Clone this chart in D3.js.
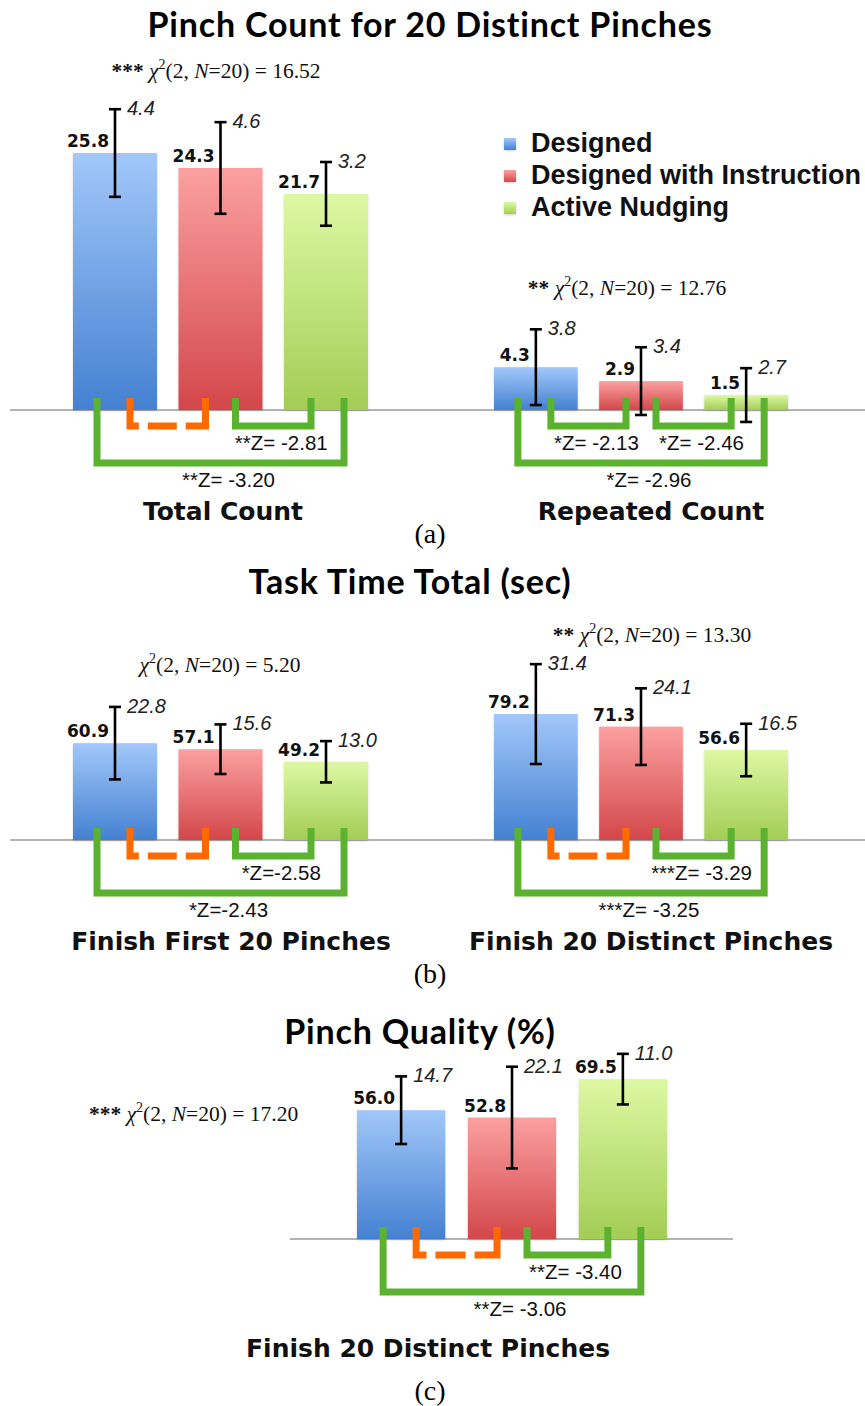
<!DOCTYPE html>
<html>
<head>
<meta charset="utf-8">
<script src="https://cdn.jsdelivr.net/npm/d3@7"></script>
<style>
  html, body { margin: 0; padding: 0; background: #fff; }
  svg { display: block; }
</style>
</head>
<body>
<svg id="chart" width="865" height="1406"></svg>
<script>
// ---- data ----------------------------------------------------------------
const conditions = ["Designed", "Designed with Instruction", "Active Nudging"];

const totalCountMean = [25.8, 24.3, 21.7];
const totalCountSD   = [4.4, 4.6, 3.2];
const repeatedCountMean = [4.3, 2.9, 1.5];
const repeatedCountSD   = [3.8, 3.4, 2.7];

const firstPinchesTimeMean = [60.9, 57.1, 49.2];
const firstPinchesTimeSD   = [22.8, 15.6, 13.0];
const distinctPinchesTimeMean = [79.2, 71.3, 56.6];
const distinctPinchesTimeSD   = [31.4, 24.1, 16.5];

const qualityMean = [56.0, 52.8, 69.5];
const qualitySD   = [14.7, 22.1, 11.0];

// pairwise tests: [from, to, significant, label]
const totalCountTests = [[0, 1, false, ""], [1, 2, true, "**Z= -2.81"], [0, 2, true, "**Z= -3.20"]];
const repeatedCountTests = [[0, 1, true, "*Z= -2.13"], [1, 2, true, "*Z= -2.46"], [0, 2, true, "*Z= -2.96"]];
const firstPinchesTests = [[0, 1, false, ""], [1, 2, true, "*Z=-2.58"], [0, 2, true, "*Z=-2.43"]];
const distinctPinchesTests = [[0, 1, false, ""], [1, 2, true, "***Z= -3.29"], [0, 2, true, "***Z= -3.25"]];
const qualityTests = [[0, 1, false, ""], [1, 2, true, "**Z= -3.40"], [0, 2, true, "**Z= -3.06"]];

// Friedman tests: [stars, chi-square value]
const totalCountChi = ["***", "16.52"];
const repeatedCountChi = ["**", "12.76"];
const firstPinchesChi = ["", "5.20"];
const distinctPinchesChi = ["**", "13.30"];
const qualityChi = ["***", "17.20"];

// ---- style ---------------------------------------------------------------
const barTop    = ["#a2c7fa", "#fba0a0", "#ddf8a3"];
const barBottom = ["#4481d1", "#d3474a", "#a3cd55"];
const bracketGreen = "#5bb22f";
const bracketOrange = "#ff6a00";

const svg = d3.select("#chart");
const defs = svg.append("defs");
conditions.forEach((c, i) => {
  const g = defs.append("linearGradient").attr("id", "grad" + i)
    .attr("x1", 0).attr("y1", 0).attr("x2", 0).attr("y2", 1);
  g.append("stop").attr("offset", "0%").attr("stop-color", barTop[i]);
  g.append("stop").attr("offset", "100%").attr("stop-color", barBottom[i]);
});
const shadow = defs.append("filter").attr("id", "shadow")
  .attr("x", "-20%").attr("y", "-20%").attr("width", "140%").attr("height", "140%");
shadow.append("feDropShadow").attr("dx", 0).attr("dy", 1).attr("stdDeviation", 1)
  .attr("flood-color", "#000").attr("flood-opacity", 0.18);

const titleFont = "Lato, 'Open Sans', sans-serif";
const labelFont = "'DejaVu Sans', Verdana, sans-serif";
const sansFont = "'Liberation Sans', Arial, Helvetica, sans-serif";
const serifFont = "'Liberation Serif', 'Times New Roman', serif";

// ---- panels ----------------------------------------------------------------
const panels = [
  {
    title: "Pinch Count for 20 Distinct Pinches", titleX: 430, titleY: 37,
    caption: "(a)", captionY: 543,
    baseline: 410, yMax: 30, yPx: 298.8, axisX: [10, 865],
    groups: [
      { name: "Total Count", mean: totalCountMean, sd: totalCountSD, tests: totalCountTests,
        chi: totalCountChi, chiPos: [216, 78, "middle"], range: [73, 368], labelX: 223 },
      { name: "Repeated Count", mean: repeatedCountMean, sd: repeatedCountSD, tests: repeatedCountTests,
        chi: repeatedCountChi, chiPos: [627, 295, "middle"], range: [494, 788], labelX: 651 }
    ],
    legend: true
  },
  {
    title: "Task Time Total (sec)", titleX: 410, titleY: 594,
    caption: "(b)", captionY: 983,
    baseline: 840, yMax: 100, yPx: 159, axisX: [10, 865],
    groups: [
      { name: "Finish First 20 Pinches", mean: firstPinchesTimeMean, sd: firstPinchesTimeSD, tests: firstPinchesTests,
        chi: firstPinchesChi, chiPos: [220, 672, "middle"], range: [73, 368], labelX: 231 },
      { name: "Finish 20 Distinct Pinches", mean: distinctPinchesTimeMean, sd: distinctPinchesTimeSD, tests: distinctPinchesTests,
        chi: distinctPinchesChi, chiPos: [652, 642, "middle"], range: [494, 788], labelX: 651 }
    ]
  },
  {
    title: "Pinch Quality (%)", titleX: 420, titleY: 1044,
    caption: "(c)", captionY: 1400,
    baseline: 1239, yMax: 100, yPx: 230, axisX: [290, 733],
    groups: [
      { name: "Finish 20 Distinct Pinches", mean: qualityMean, sd: qualitySD, tests: qualityTests,
        chi: qualityChi, chiPos: [89, 1121, "start"], range: [357, 667], labelX: 428, labelDY: 118 }
    ]
  }
];

function drawChi(x, y, anchor, chi) {
  const t = svg.append("text").attr("x", x).attr("y", y).attr("text-anchor", anchor)
    .attr("font-family", serifFont).attr("font-size", 21.5).attr("fill", "#111");
  if (chi[0]) t.append("tspan").attr("font-weight", "bold").text(chi[0] + " ");
  t.append("tspan").attr("font-style", "italic").text("\u03C7");
  t.append("tspan").attr("font-size", 14).attr("dy", -9).text("2");
  t.append("tspan").attr("dy", 9).text("(2, ");
  t.append("tspan").attr("font-style", "italic").text("N");
  t.append("tspan").text("=20) = " + chi[1]);
}

panels.forEach(p => {
  const y = d3.scaleLinear().domain([0, p.yMax]).range([p.baseline, p.baseline - p.yPx]);

  // title
  svg.append("text").attr("x", p.titleX).attr("y", p.titleY).attr("text-anchor", "middle")
    .attr("font-family", titleFont).attr("font-weight", 700).attr("font-size", 34)
    .attr("letter-spacing", 0.8).attr("fill", "#000").text(p.title);

  // caption
  svg.append("text").attr("x", 430).attr("y", p.captionY).attr("text-anchor", "middle")
    .attr("font-family", serifFont).attr("font-size", 28).attr("fill", "#000").text(p.caption);

  // baseline axis
  svg.append("line").attr("x1", p.axisX[0]).attr("x2", p.axisX[1])
    .attr("y1", y(0)).attr("y2", y(0)).attr("stroke", "#9a9a9a").attr("stroke-width", 1.5);

  p.groups.forEach(g => {
    const x = d3.scaleBand().domain(d3.range(conditions.length)).range(g.range)
      .paddingInner(0.204).paddingOuter(0);
    const cx = i => x(i) + x.bandwidth() / 2;
    const rows = g.mean.map((m, i) => ({ i, m, sd: g.sd[i] }));

    const gg = svg.append("g");

    // bars
    gg.selectAll("rect.bar").data(rows).join("rect").attr("class", "bar")
      .attr("x", d => x(d.i)).attr("width", x.bandwidth())
      .attr("y", d => y(d.m)).attr("height", d => y(0) - y(d.m))
      .attr("fill", d => `url(#grad${d.i})`)
      .attr("filter", "url(#shadow)");

    // error bars
    const eb = gg.selectAll("g.err").data(rows).join("g").attr("class", "err")
      .attr("stroke", "#000").attr("stroke-width", 2.6);
    eb.append("line").attr("x1", d => cx(d.i)).attr("x2", d => cx(d.i))
      .attr("y1", d => y(d.m + d.sd)).attr("y2", d => y(d.m - d.sd));
    eb.append("line").attr("x1", d => cx(d.i) - 6).attr("x2", d => cx(d.i) + 6)
      .attr("y1", d => y(d.m + d.sd)).attr("y2", d => y(d.m + d.sd));
    eb.append("line").attr("x1", d => cx(d.i) - 6).attr("x2", d => cx(d.i) + 6)
      .attr("y1", d => y(d.m - d.sd)).attr("y2", d => y(d.m - d.sd));

    // mean labels
    gg.selectAll("text.mean").data(rows).join("text").attr("class", "mean")
      .attr("x", d => cx(d.i) - 6).attr("y", d => y(d.m) - 6)
      .attr("text-anchor", "end").attr("font-family", labelFont).attr("font-weight", "bold")
      .attr("font-size", 17).attr("fill", "#111").text(d => d.m.toFixed(1));

    // SD labels
    gg.selectAll("text.sd").data(rows).join("text").attr("class", "sd")
      .attr("x", d => cx(d.i) + 12).attr("y", d => y(d.m + d.sd) + 6)
      .attr("font-family", sansFont).attr("font-style", "italic")
      .attr("font-size", 20).attr("fill", "#222").text(d => d.sd.toFixed(1));

    // comparison brackets
    const top = y(0) - 12;
    g.tests.forEach(([a, b, sig, label]) => {
      const outer = (b - a) === 2;
      const x1 = outer ? cx(a) - 18 : cx(a) + 15;
      const x2 = outer ? cx(b) + 18 : cx(b) - 15;
      const bottom = y(0) + (outer ? 53 : 16);
      const path = gg.append("path")
        .attr("d", `M${x1},${top}V${bottom}H${x2}V${top}`)
        .attr("fill", "none")
        .attr("stroke", sig ? bracketGreen : bracketOrange)
        .attr("stroke-width", 7).attr("stroke-linejoin", "miter");
      if (!sig) {
        const L = path.node().getTotalLength();
        path.attr("stroke-dasharray", `${L * 0.28} 9 ${L * 0.22} 9 ${L}`);
      }
      if (label) {
        gg.append("text").attr("x", (x1 + x2) / 2 + 8).attr("y", bottom + 24)
          .attr("text-anchor", "middle").attr("font-family", sansFont)
          .attr("font-size", 20.5).attr("fill", "#111").text(label);
      }
    });

    // Friedman result
    drawChi(g.chiPos[0], g.chiPos[1], g.chiPos[2], g.chi);

    // group label
    svg.append("text").attr("x", g.labelX).attr("y", y(0) + (g.labelDY || 110))
      .attr("text-anchor", "middle").attr("font-family", labelFont).attr("font-weight", "bold")
      .attr("font-size", 25).attr("fill", "#111").text(g.name);
  });

  // legend
  if (p.legend) {
    const lg = svg.append("g").attr("transform", "translate(504,0)");
    const items = lg.selectAll("g").data(conditions).join("g")
      .attr("transform", (d, i) => `translate(0,${152 + i * 32})`);
    items.append("rect").attr("x", 0).attr("y", -14).attr("width", 12).attr("height", 12)
      .attr("fill", (d, i) => `url(#grad${i})`).attr("filter", "url(#shadow)");
    items.append("text").attr("x", 27).attr("y", 0)
      .attr("font-family", sansFont).attr("font-weight", "bold").attr("font-size", 27)
      .attr("fill", "#111").text(d => d);
  }
});
</script>
</body>
</html>
